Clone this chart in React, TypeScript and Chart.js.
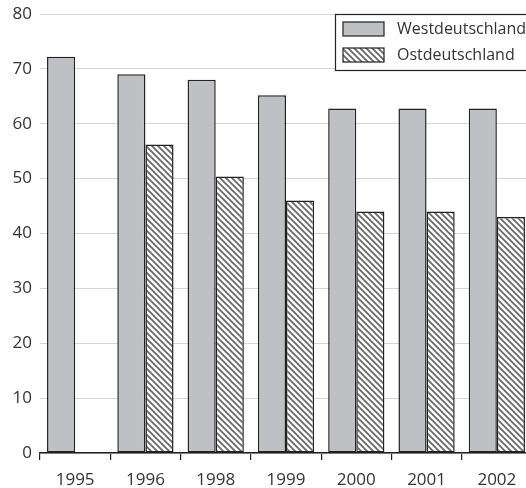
import React, { useEffect, useRef } from "react";
import { Chart, registerables } from "chart.js";

Chart.register(...registerables);

const categories = ["1995", "1996", "1998", "1999", "2000", "2001", "2002"];
const westValues = [72.2, 69.0, 68.0, 65.2, 62.8, 62.8, 62.8];
const ostValues: (number | null)[] = [null, 56.2, 50.4, 46.0, 44.0, 44.0, 43.0];
const seriesLabels = ["Westdeutschland", "Ostdeutschland"];
const yTicks = [0, 10, 20, 30, 40, 50, 60, 70, 80];

const FONT = "'Open Sans', 'Noto Sans', sans-serif";
const TEXT = "#333333";
const DARK = "#222222";
const GRAY = "#bfc0c4";

function makeHatch(): CanvasPattern | string {
  const p = 6;
  const c = document.createElement("canvas");
  c.width = p;
  c.height = p;
  const g = c.getContext("2d");
  if (!g) return "#ffffff";
  g.fillStyle = "#ffffff";
  g.fillRect(0, 0, p, p);
  g.strokeStyle = "#6a6a6a";
  g.lineWidth = 1.8;
  g.beginPath();
  g.moveTo(-1, -1);
  g.lineTo(p + 1, p + 1);
  g.moveTo(-1, p - 1);
  g.lineTo(1, p + 1);
  g.moveTo(p - 1, -1);
  g.lineTo(p + 1, 1);
  g.stroke();
  const pat = g.createPattern(c, "repeat");
  return pat || "#ffffff";
}

const boxLegend = {
  id: "boxLegend",
  afterDraw(chart: any) {
    const { ctx, chartArea } = chart;
    const left = 335;
    const top = chartArea.top;
    const right = chart.width + 5;
    const height = 56;
    ctx.save();
    ctx.fillStyle = "#ffffff";
    ctx.fillRect(left, top, right - left, height);
    ctx.strokeStyle = DARK;
    ctx.lineWidth = 1.2;
    ctx.strokeRect(left + 0.5, top + 0.5, right - left, height);
    chart.data.datasets.forEach((ds: any, i: number) => {
      const sy = top + 8 + i * 26;
      ctx.fillStyle = ds.backgroundColor;
      ctx.fillRect(left + 8, sy, 41, 14);
      ctx.strokeStyle = DARK;
      ctx.lineWidth = 1.2;
      ctx.strokeRect(left + 8, sy, 41, 14);
      ctx.fillStyle = TEXT;
      ctx.font = `16px ${FONT}`;
      ctx.textBaseline = "middle";
      ctx.textAlign = "left";
      ctx.fillText(ds.label, left + 62, sy + 7);
    });
    ctx.restore();
  },
};

export default function App() {
  const ref = useRef<HTMLCanvasElement | null>(null);
  useEffect(() => {
    if (!ref.current) return;
    const hatch = makeHatch();
    const chart = new Chart(ref.current, {
      type: "bar",
      data: {
        labels: categories,
        datasets: [
          {
            label: seriesLabels[0],
            data: westValues,
            backgroundColor: GRAY,
            borderColor: DARK,
            borderWidth: 1.5,
            borderSkipped: false,
            categoryPercentage: 0.8,
            barPercentage: 1,
          },
          {
            label: seriesLabels[1],
            data: ostValues,
            backgroundColor: hatch as any,
            borderColor: DARK,
            borderWidth: 1.5,
            borderSkipped: false,
            categoryPercentage: 0.8,
            barPercentage: 1,
          },
        ],
      },
      options: {
        animation: false,
        responsive: true,
        maintainAspectRatio: false,
        layout: { padding: { top: 14, right: 8, bottom: 0, left: 0 } },
        plugins: {
          legend: { display: false },
          tooltip: { enabled: false },
        },
        scales: {
          x: {
            offset: true,
            grid: {
              display: true,
              offset: true,
              drawOnChartArea: false,
              drawTicks: true,
              tickLength: 7,
              color: DARK,
              lineWidth: 1.2,
            },
            border: { display: true, color: DARK, width: 1.5 },
            ticks: {
              color: TEXT,
              font: { family: FONT, size: 17 },
              padding: 10,
              maxRotation: 0,
            },
            afterFit(scale: any) {
              scale.height = 35;
              scale.paddingLeft = 0;
              scale.paddingRight = 0;
            },
          },
          y: {
            min: 0,
            max: 80,
            afterBuildTicks(scale: any) {
              scale.ticks = yTicks.map((v) => ({ value: v }));
            },
            grid: {
              color: "#d6d6d6",
              lineWidth: 1,
              drawTicks: false,
            },
            border: { display: false },
            ticks: {
              color: TEXT,
              font: { family: FONT, size: 17 },
              padding: 8,
            },
            afterFit(scale: any) {
              scale.width = 40;
              scale.paddingTop = 0;
              scale.paddingBottom = 0;
            },
          },
        },
      },
      plugins: [boxLegend],
    });
    return () => chart.destroy();
  }, []);

  return (
    <div
      style={{
        position: "absolute",
        left: 0,
        top: 0,
        width: 526,
        height: 488,
        overflow: "hidden",
        background: "#ffffff",
      }}
    >
      <div style={{ position: "relative", width: 540, height: 488 }}>
        <canvas ref={ref} />
      </div>
    </div>
  );
}
